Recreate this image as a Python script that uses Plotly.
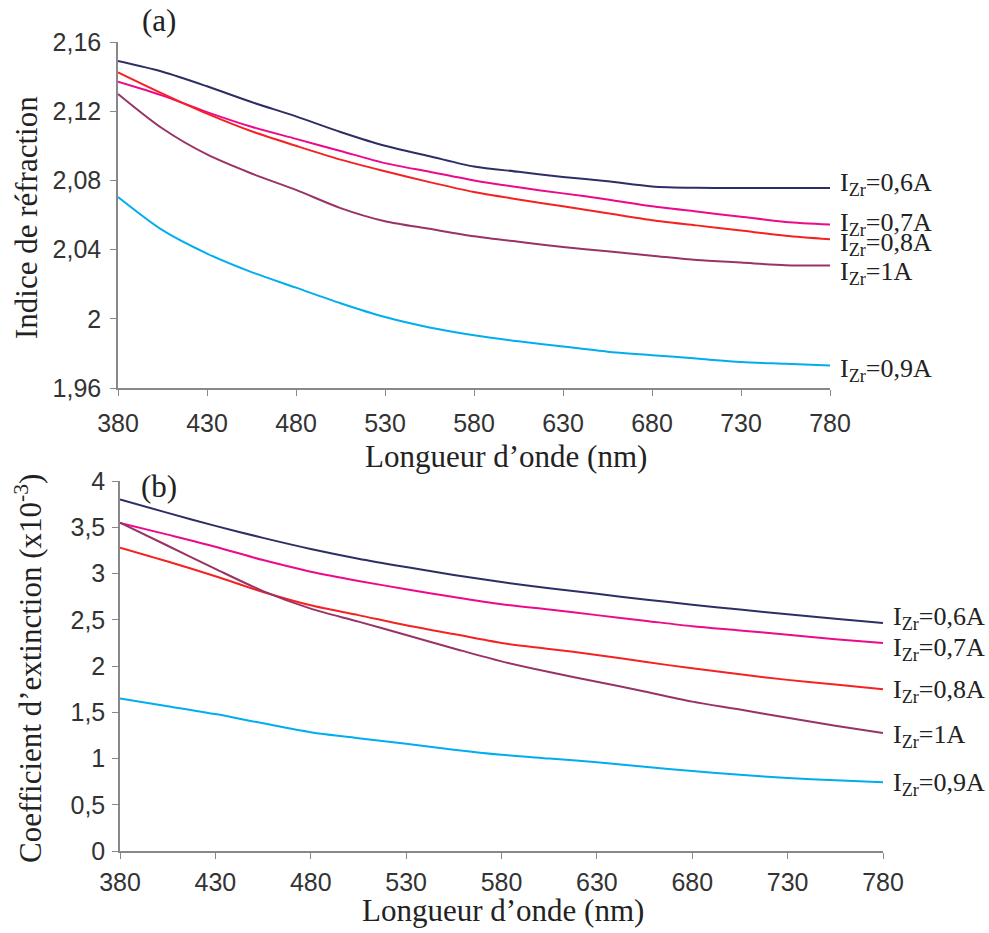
import plotly.graph_objects as go

# ---------------- data ----------------
wavelength = [380, 405, 430, 455, 480, 505, 530, 555, 580, 605, 630, 655, 680, 705, 730, 755, 780]

# (a) refractive index
n_06 = [2.149, 2.1428, 2.1344, 2.1253, 2.117, 2.108, 2.100, 2.094, 2.088, 2.085, 2.082, 2.0795, 2.0765, 2.0757, 2.0756, 2.0756, 2.0756]
n_07 = [2.137, 2.129, 2.1195, 2.111, 2.104, 2.097, 2.090, 2.085, 2.080, 2.076, 2.0725, 2.069, 2.065, 2.062, 2.059, 2.056, 2.0545]
n_08 = [2.1425, 2.1302, 2.1186, 2.1084, 2.100, 2.092, 2.0853, 2.079, 2.0733, 2.069, 2.065, 2.061, 2.057, 2.054, 2.051, 2.048, 2.046]
n_10 = [2.130, 2.110, 2.095, 2.084, 2.0745, 2.064, 2.0564, 2.052, 2.0477, 2.0445, 2.0415, 2.039, 2.0365, 2.034, 2.0325, 2.031, 2.0308]
n_09 = [2.0704, 2.0512, 2.0377, 2.027, 2.018, 2.009, 2.001, 1.995, 1.9905, 1.987, 1.984, 1.981, 1.979, 1.977, 1.975, 1.974, 1.973]

# (b) extinction coefficient (x1e-3)
k_06 = [3.80, 3.655, 3.515, 3.385, 3.265, 3.16, 3.07, 2.985, 2.908, 2.84, 2.78, 2.72, 2.663, 2.61, 2.56, 2.51, 2.465]
k_07 = [3.546, 3.42, 3.29, 3.145, 3.02, 2.92, 2.83, 2.745, 2.667, 2.61, 2.55, 2.49, 2.43, 2.385, 2.338, 2.29, 2.249]
k_08 = [3.28, 3.13, 2.97, 2.80, 2.656, 2.55, 2.44, 2.345, 2.249, 2.185, 2.12, 2.045, 1.975, 1.91, 1.85, 1.80, 1.748]
k_10 = [3.55, 3.30, 3.05, 2.81, 2.62, 2.48, 2.335, 2.19, 2.05, 1.935, 1.83, 1.725, 1.615, 1.53, 1.44, 1.355, 1.276]
k_09 = [1.648, 1.565, 1.48, 1.38, 1.285, 1.22, 1.16, 1.095, 1.04, 1.0, 0.96, 0.91, 0.865, 0.825, 0.79, 0.765, 0.743]

series_labels = ["I<sub>Zr</sub>=0,6A", "I<sub>Zr</sub>=0,7A", "I<sub>Zr</sub>=0,8A",
                 "I<sub>Zr</sub>=1A", "I<sub>Zr</sub>=0,9A"]

x_ticks = [380, 430, 480, 530, 580, 630, 680, 730, 780]
x_ticktext = ["380", "430", "480", "530", "580", "630", "680", "730", "780"]
ya_ticks = [1.96, 2.0, 2.04, 2.08, 2.12, 2.16]
ya_ticktext = ["1,96", "2", "2,04", "2,08", "2,12", "2,16"]
yb_ticks = [0, 0.5, 1, 1.5, 2, 2.5, 3, 3.5, 4]
yb_ticktext = ["0", "0,5", "1", "1,5", "2", "2,5", "3", "3,5", "4"]

# ---------------- style ----------------
W, H = 989, 933
colors = ["#2E2E66", "#EC0A8C", "#F52222", "#993366", "#00AEEF"]
shift_a = [4, 1, -5, -7, -4]
shift_b = [5, -6, -1.5, -3, -2]
SERIF = "Liberation Serif, Times New Roman, serif"
SANS = "Liberation Sans, Arial, sans-serif"

fig = go.Figure()
data_a = [n_06, n_07, n_08, n_10, n_09]
data_b = [k_06, k_07, k_08, k_10, k_09]

for vals, c in zip(data_a, colors):
    fig.add_trace(go.Scatter(x=wavelength, y=vals, mode="lines",
                             line=dict(color=c, width=2, shape="spline", smoothing=0.8),
                             xaxis="x", yaxis="y", showlegend=False))
for vals, c in zip(data_b, colors):
    fig.add_trace(go.Scatter(x=wavelength, y=vals, mode="lines",
                             line=dict(color=c, width=2, shape="spline", smoothing=0.8),
                             xaxis="x2", yaxis="y2", showlegend=False))

annotations = []
for vals, lab, s in zip(data_a, series_labels, shift_a):
    annotations.append(dict(x=wavelength[-1], y=vals[-1], xref="x", yref="y", text=lab,
                            showarrow=False, xanchor="left", yanchor="middle",
                            xshift=8, yshift=s, font=dict(family=SERIF, size=26, color="#222")))
for vals, lab, s in zip(data_b, series_labels, shift_b):
    annotations.append(dict(x=wavelength[-1], y=vals[-1], xref="x2", yref="y2", text=lab,
                            showarrow=False, xanchor="left", yanchor="middle",
                            xshift=8, yshift=s, font=dict(family=SERIF, size=26, color="#222")))

def paper(px, py):
    return px / W, 1 - py / H

for txt, px, py, ang in [
    ("(a)", 159, 20, 0),
    ("(b)", 159, 487, 0),
    ("Longueur d’onde (nm)", 506, 456, 0),
    ("Longueur d’onde (nm)", 503, 910, 0),
    ("Indice de réfraction", 26, 218, -90),
    ("Coefficient d’extinction (x10<sup>-3</sup>)", 28, 669, -90),
]:
    x, y = paper(px, py)
    annotations.append(dict(x=x, y=y, xref="paper", yref="paper", text=txt, showarrow=False,
                            xanchor="center", yanchor="middle", textangle=ang,
                            font=dict(family=SERIF, size=31, color="#222")))

axis_common = dict(showgrid=False, zeroline=False, showline=True, linecolor="#888888",
                   linewidth=1.5, ticks="outside", ticklen=6, tickcolor="#888888",
                   tickwidth=1.2, automargin=False,
                   tickfont=dict(family=SANS, size=25, color="#333"))

fig.update_layout(
    width=W, height=H,
    margin=dict(l=0, r=0, t=0, b=0, pad=0, autoexpand=False),
    paper_bgcolor="white", plot_bgcolor="white",
    separators=",.",
    annotations=annotations,
    xaxis=dict(domain=[118 / W, 830 / W], range=[380, 780], anchor="y",
               tickvals=x_ticks, ticktext=x_ticktext, ticklabelstandoff=6, **axis_common),
    yaxis=dict(domain=[1 - 388 / H, 1 - 42 / H], range=[1.96, 2.16], anchor="x",
               tickvals=ya_ticks, ticktext=ya_ticktext, ticklabelstandoff=4, **axis_common),
    xaxis2=dict(domain=[120 / W, 883 / W], range=[380, 780], anchor="y2",
                tickvals=x_ticks, ticktext=x_ticktext, ticklabelstandoff=2, **axis_common),
    yaxis2=dict(domain=[1 - 851 / H, 1 - 481 / H], range=[0, 4], anchor="x2",
                tickvals=yb_ticks, ticktext=yb_ticktext, ticklabelstandoff=2, **axis_common),
)

fig.write_html("out.html", config={"displayModeBar": False},
               post_script="document.body.style.margin='0';document.body.style.overflow='hidden';")
